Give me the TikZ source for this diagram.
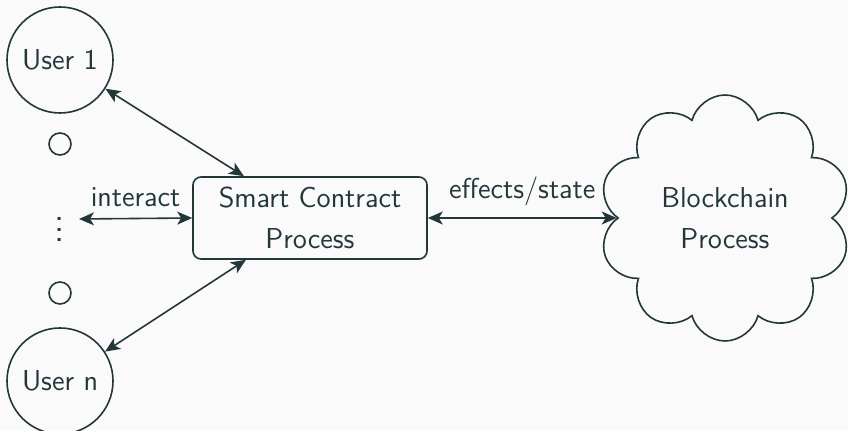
\documentclass[tikz,border=0pt]{standalone}
\usepackage{fontspec}
\usetikzlibrary{shapes.symbols,arrows.meta}
\definecolor{mteal}{HTML}{23373B}
\definecolor{mbg}{HTML}{FAFAFA}
\begin{document}
\begin{tikzpicture}[x=0.5pt,y=-0.5pt,
  every node/.style={font=\sffamily\fontsize{14.4}{20.5}\selectfont, text=mteal},
  line/.style={draw=mteal, line width=0.8pt},
  biarrow/.style={line, {Stealth[length=7.5pt,width=6.5pt,inset=2pt]}-{Stealth[length=7.5pt,width=6.5pt,inset=2pt]}},
  user/.style={circle, line, minimum size=53pt, inner sep=0pt},
  dotc/.style={circle, line, minimum size=11pt, inner sep=0pt},
  procbox/.style={rectangle, rounded corners=4pt, line, minimum width=117pt, minimum height=41pt, align=center, inner sep=0pt},
  chain/.style={cloud, cloud puffs=10, cloud ignores aspect, line, minimum width=126pt, minimum height=123pt, align=center, inner sep=0pt},
  lbl/.style={above, inner sep=5.5pt}]
\fill[mbg] (0,0) rectangle (848,431);
\useasboundingbox (0,0) rectangle (848,431);
\node[user] (u1) at (60,60) {User 1};
\node[user] (un) at (60,381) {User n};
\node[dotc] (c1) at (60,144) {};
\node[dotc] (c2) at (60,293) {};
\node[inner sep=0pt] (dots) at (60,222) {\scalebox{1.3}{$\vdots$}};
\coordinate (lend) at (79,219);
\node[procbox] (sc) at (310,218) {Smart Contract\\Process};
\node[chain] (bc) at (725,218) {Blockchain\\Process};
\draw[biarrow] (u1) -- (sc);
\draw[biarrow] (un) -- (sc);
\draw[biarrow] (lend) -- node[lbl] (li) {interact} (sc.west);
\draw[biarrow] (sc) -- node[lbl] (le) {effects/state} (bc);
\end{tikzpicture}
\end{document}
